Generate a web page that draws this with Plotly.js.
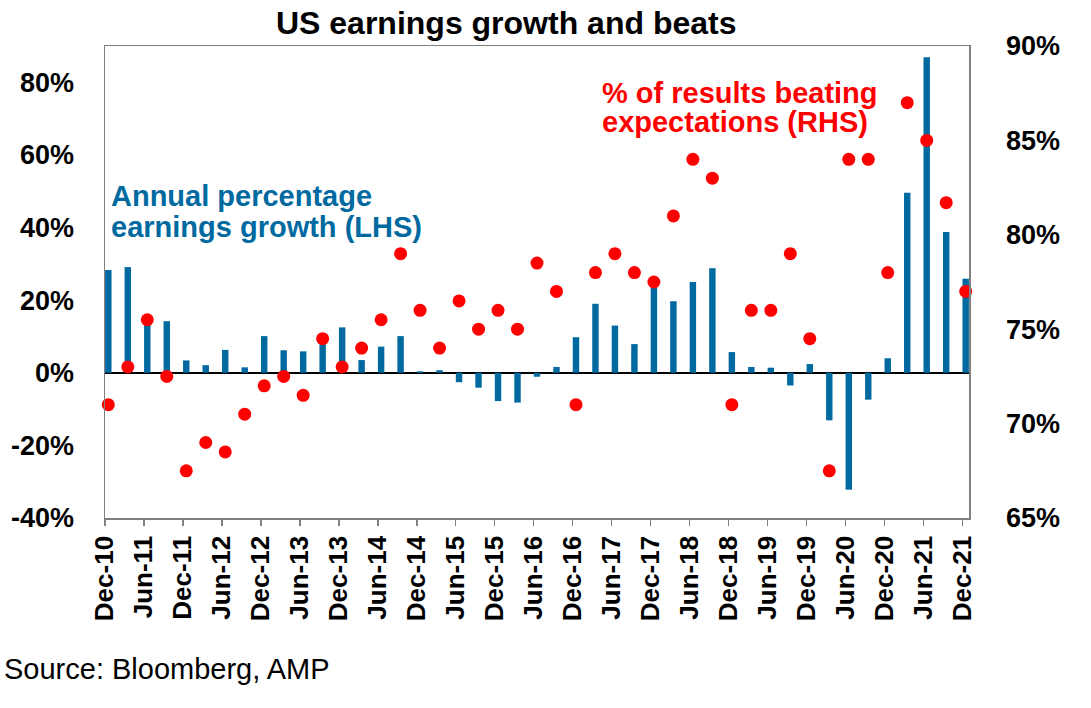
<!DOCTYPE html>
<html>
<head>
<meta charset="utf-8">
<script src="https://cdn.plot.ly/plotly-3.0.1.min.js"></script>
<style>
  body { margin: 0; background: #fff; }
  #chart { width: 1091px; height: 708px; }
</style>
</head>
<body>
<div id="chart"></div>
<script>
// quarters Dec-10 .. Dec-21
let quarters = ['Dec-10','Mar-11','Jun-11','Sep-11','Dec-11','Mar-12','Jun-12','Sep-12',
  'Dec-12','Mar-13','Jun-13','Sep-13','Dec-13','Mar-14','Jun-14','Sep-14',
  'Dec-14','Mar-15','Jun-15','Sep-15','Dec-15','Mar-16','Jun-16','Sep-16',
  'Dec-16','Mar-17','Jun-17','Sep-17','Dec-17','Mar-18','Jun-18','Sep-18',
  'Dec-18','Mar-19','Jun-19','Sep-19','Dec-19','Mar-20','Jun-20','Sep-20',
  'Dec-20','Mar-21','Jun-21','Sep-21','Dec-21']

// annual % earnings growth (LHS)
let growth = [28.3, 29.1, 14, 14.2, 3.4, 2.1, 6.3, 1.5,
  10.1, 6.2, 5.9, 8.5, 12.5, 3.5, 7.2, 10.1,
  0.4, 0.7, -2.6, -4.1, -7.8, -8.2, -1.1, 1.6,
  9.8, 19.0, 13.0, 7.9, 23.8, 19.7, 25.0, 28.8,
  5.7, 1.6, 1.4, -3.5, 2.4, -13.1, -32.2, -7.4,
  4.0, 49.6, 86.9, 38.8, 25.9]

// % of results beating expectations (RHS)
let beats = [71, 73, 75.5, 72.5, 67.5, 69, 68.5, 70.5,
  72, 72.5, 71.5, 74.5, 73, 74, 75.5, 79,
  76, 74, 76.5, 75, 76, 75, 78.5, 77,
  71, 78, 79, 78, 77.5, 81, 84, 83,
  71, 76, 76, 79, 74.5, 67.5, 84, 84,
  78, 87, 85, 81.7, 77]

// axis ticks
let leftTicks = [-40, -20, 0, 20, 40, 60, 80]
let rightTicks = [65, 70, 75, 80, 85, 90]

let idx = quarters.map((q, i) => i)
// every second quarter gets a tick, marks sit a little right of the tick
let tickIdx = idx.filter(i => i % 2 == 0)

let blue = 'rgb(0,106,160)'
let red = 'rgb(255,0,0)'
let fam = 'Liberation Sans, Arial, sans-serif'

let bars = {
  x: idx,
  y: growth,
  type: 'bar',
  width: 0.33,
  marker: {color: blue},
  yaxis: 'y',
  hoverinfo: 'skip'
}
let dots = {
  x: idx,
  y: beats,
  type: 'scatter',
  mode: 'markers',
  marker: {color: red, size: 13},
  yaxis: 'y2',
  cliponaxis: false,
  hoverinfo: 'skip'
}

let layout = {
  width: 1091,
  height: 708,
  showlegend: false,
  paper_bgcolor: 'white',
  plot_bgcolor: 'white',
  margin: {l: 105, r: 122, t: 46, b: 190},
  font: {family: fam, color: 'black'},
  title: {
    text: 'US earnings growth and beats',
    font: {family: fam, size: 32, weight: 'bold', color: 'black'},
    x: 0.464, xanchor: 'center',
    y: 0.968, yanchor: 'middle'
  },
  xaxis: {
    range: [-0.17, 44.17],
    tickvals: tickIdx.map(i => i - 0.17),
    ticktext: tickIdx.map(i => quarters[i]),
    tickangle: -90,
    ticks: 'outside', ticklen: 6, tickwidth: 1.5, tickcolor: '#808080',
    tickfont: {size: 26, weight: 'bold'},
    showline: true, linecolor: '#808080', linewidth: 1.5, mirror: true,
    showgrid: false, zeroline: false
  },
  yaxis: {
    range: [-40, 90],
    tickvals: leftTicks,
    ticktext: leftTicks.map(v => v + '%'),
    tickfont: {size: 27, weight: 'bold'},
    ticklabelstandoff: 24,
    showline: true, linecolor: '#808080', linewidth: 1.5,
    showgrid: false,
    zeroline: true, zerolinecolor: 'black', zerolinewidth: 1.5
  },
  yaxis2: {
    range: [65, 90],
    overlaying: 'y',
    side: 'right',
    tickvals: rightTicks,
    ticktext: rightTicks.map(v => v + '%'),
    tickfont: {size: 27, weight: 'bold'},
    ticklabelstandoff: 30,
    showline: true, linecolor: '#808080', linewidth: 1.5,
    showgrid: false, zeroline: false
  },
  annotations: [
    {text: 'Annual percentage', xref: 'paper', yref: 'paper', x: 0.005, y: 0.682,
     xanchor: 'left', yanchor: 'middle', showarrow: false,
     font: {size: 29, weight: 'bold', color: blue}},
    {text: 'earnings growth (LHS)', xref: 'paper', yref: 'paper', x: 0.005, y: 0.616,
     xanchor: 'left', yanchor: 'middle', showarrow: false,
     font: {size: 29, weight: 'bold', color: blue}},
    {text: '% of results beating', xref: 'paper', yref: 'paper', x: 0.573, y: 0.901,
     xanchor: 'left', yanchor: 'middle', showarrow: false,
     font: {size: 29, weight: 'bold', color: red}},
    {text: 'expectations (RHS)', xref: 'paper', yref: 'paper', x: 0.573, y: 0.838,
     xanchor: 'left', yanchor: 'middle', showarrow: false,
     font: {size: 29, weight: 'bold', color: red}},
    {text: 'Source: Bloomberg, AMP', xref: 'paper', yref: 'paper', x: -0.119, y: -0.32,
     xanchor: 'left', yanchor: 'middle', showarrow: false,
     font: {size: 29, color: 'black'}}
  ]
}

Plotly.newPlot('chart', [bars, dots], layout, {displayModeBar: false, staticPlot: true})
</script>
</body>
</html>
